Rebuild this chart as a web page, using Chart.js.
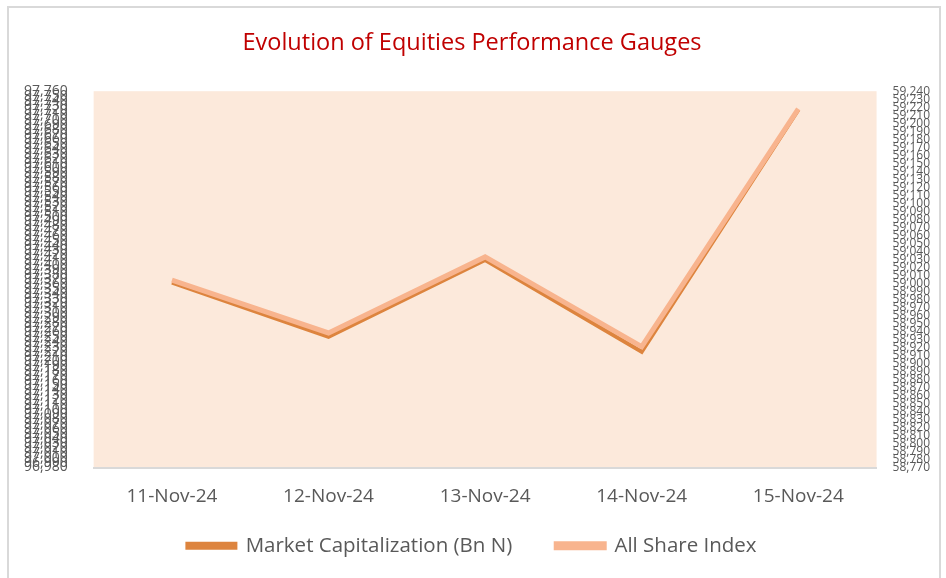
<!DOCTYPE html>
<html lang="en">
<head>
  <meta charset="UTF-8" />
  <title>Evolution of Equities Performance Gauges</title>
  <script src="https://cdn.jsdelivr.net/npm/chart.js"></script>
  <style>
    body {
      margin: 0;
      background: #ffffff;
      width: 946px;
      height: 578px;
      overflow: hidden;
      position: relative;
    }
    .frame {
      position: absolute;
      left: 7px;
      top: 6px;
      width: 930px;
      height: 590px;
      border: 2px solid #d9d9d9;
    }
    .wrap {
      position: absolute;
      left: 0;
      top: 0;
      width: 946px;
      height: 578px;
    }
  </style>
</head>
<body>
  <div class="frame"></div>
  <div class="wrap"><canvas id="chart"></canvas></div>

  <script>
    const dates = ["11-Nov-24", "12-Nov-24", "13-Nov-24", "14-Nov-24", "15-Nov-24"];
    const marketCap = [97363, 97251, 97410, 97220, 97721];
    const allShareIndex = [59004, 58938, 59033, 58921, 59218];

    const capMin = 96980, capMax = 97760, capStep = 10;
    const asiMin = 58770, asiMax = 59240, asiStep = 10;

    // peach plot background like the Excel chart
    const plotBg = {
      id: "plotBg",
      beforeDraw(chart) {
        const { ctx, chartArea: a } = chart;
        ctx.save();
        ctx.fillStyle = "#fce9db";
        ctx.fillRect(a.left, a.top, a.right - a.left, a.bottom - a.top);
        ctx.restore();
      }
    };

    const fmt = v => v.toLocaleString("en-US");

    new Chart(document.getElementById("chart"), {
      type: "line",
      data: {
        labels: dates,
        datasets: [
          {
            label: "Market Capitalization (Bn N)",
            data: marketCap,
            yAxisID: "yCap",
            borderColor: "#dd843e",
            backgroundColor: "#dd843e",
            borderWidth: 4,
            pointRadius: 0,
            tension: 0,
            order: 2
          },
          {
            label: "All Share Index",
            data: allShareIndex,
            yAxisID: "yAsi",
            borderColor: "#f8b48e",
            backgroundColor: "#f8b48e",
            borderWidth: 5,
            pointRadius: 0,
            tension: 0,
            order: 1
          }
        ]
      },
      options: {
        responsive: true,
        maintainAspectRatio: false,
        animation: false,
        layout: { padding: { top: 29, left: 6, right: 8, bottom: 12 } },
        plugins: {
          title: {
            display: true,
            text: "Evolution of Equities Performance Gauges",
            color: "#c00000",
            font: { family: "'Open Sans'", size: 23.5, weight: "normal" },
            padding: { top: 0, bottom: 34 }
          },
          legend: {
            position: "bottom",
            labels: {
              color: "#595959",
              font: { family: "'Open Sans'", size: 20.5 },
              boxWidth: 48,
              boxHeight: 4,
              padding: 44,
              sort: (a, b) => a.datasetIndex - b.datasetIndex
            }
          },
          tooltip: { enabled: false }
        },
        scales: {
          x: {
            offset: true,
            grid: { display: false, drawTicks: false },
            border: { display: true, color: "#d9d9d9", width: 2 },
            ticks: {
              mirror: true,          // labels are not clipped to the axis band
              color: "#595959",
              font: { family: "'Open Sans'", size: 19 },
              padding: -40           // mirror flips the side, push them back below
            },
            // short axis band so the legend sits close under the dates
            afterFit: scale => { scale.height = 24; }
          },
          yCap: {
            position: "left",
            min: capMin,
            max: capMax,
            grid: { display: false },
            border: { display: false },
            ticks: {
              stepSize: capStep,
              autoSkip: false,
              maxTicksLimit: 1000,
              color: "#595959",
              font: { family: "'Open Sans'", size: 14 },
              padding: 18,
              callback: v => fmt(v)
            }
          },
          yAsi: {
            position: "right",
            min: asiMin,
            max: asiMax,
            grid: { display: false },
            border: { display: false },
            ticks: {
              stepSize: asiStep,
              autoSkip: false,
              maxTicksLimit: 1000,
              color: "#595959",
              font: { family: "'Open Sans'", size: 12 },
              padding: 8,
              callback: v => fmt(v)
            }
          }
        }
      },
      plugins: [plotBg]
    });
  </script>
</body>
</html>
